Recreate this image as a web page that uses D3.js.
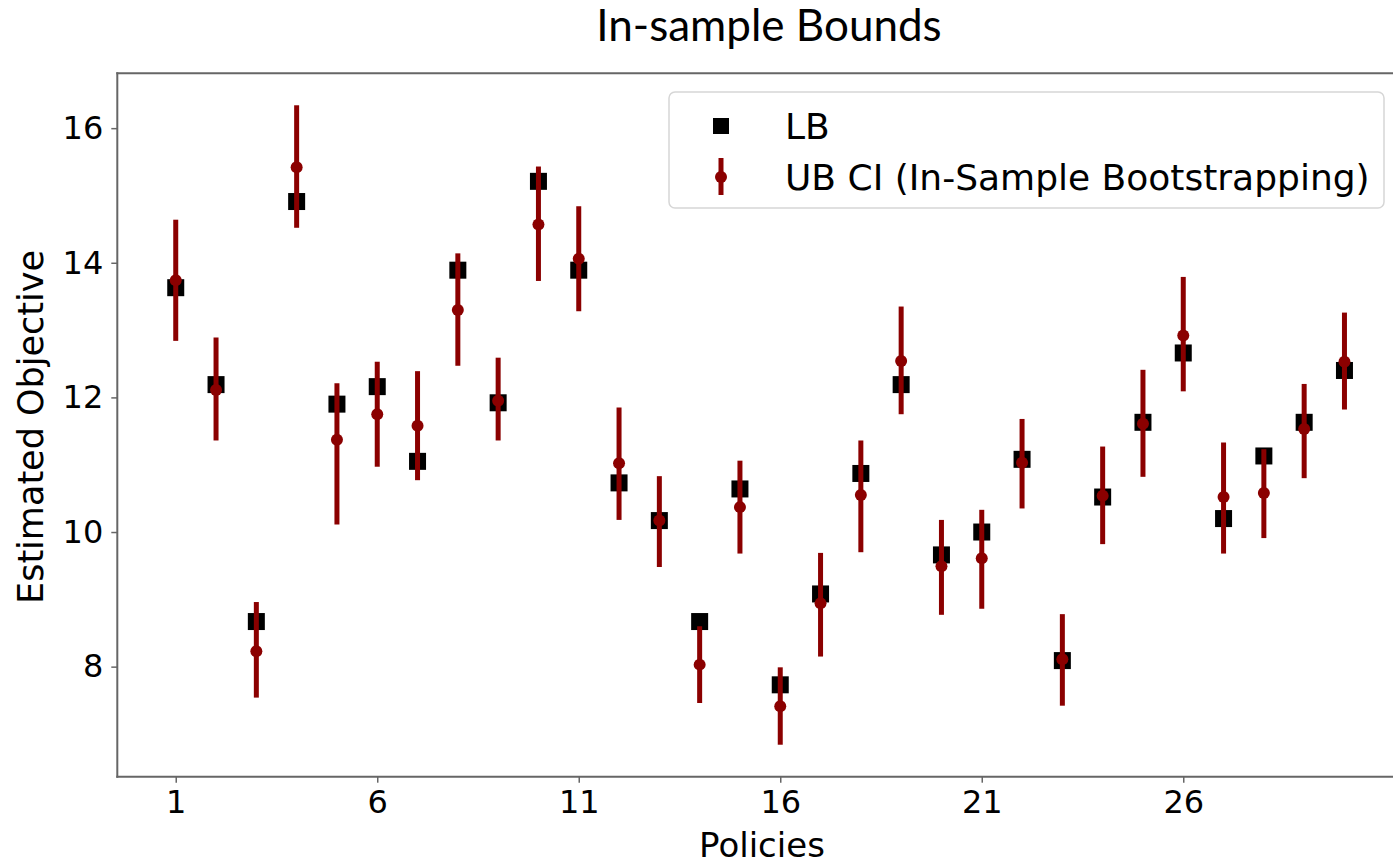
<!DOCTYPE html>
<html>
<head>
<meta charset="utf-8">
<script src="https://cdn.jsdelivr.net/npm/d3@7"></script>
<style>
  html, body { margin: 0; padding: 0; background: #fff; }
  svg { display: block; }
  .tick text { font-family: "DejaVu Sans", sans-serif; fill: #000; }
</style>
</head>
<body>
<svg id="chart" width="1393" height="864"></svg>
<script>
// policy ids on the x axis
var policies = d3.range(1, 31);
var xTicks = [1, 6, 11, 16, 21, 26];
var yTicks = [8, 10, 12, 14, 16];

// lower bound (black squares)
var lb = [13.63, 12.19, 8.67, 14.91, 11.90, 12.16, 11.05, 13.89, 11.92, 15.21,
          13.89, 10.73, 10.17, 8.67, 10.64, 7.73, 9.08, 10.87, 12.19, 9.66,
          10.00, 11.08, 8.09, 10.52, 11.63, 12.66, 10.20, 11.13, 11.63, 12.40];
// upper bound point estimate (dark red dots)
var ub = [13.74, 12.11, 8.23, 15.42, 11.37, 11.75, 11.58, 13.30, 11.95, 14.57,
          14.06, 11.02, 10.17, 8.03, 10.37, 7.41, 8.94, 10.55, 12.54, 9.49,
          9.61, 11.03, 8.11, 10.54, 11.61, 12.92, 10.52, 10.58, 11.53, 12.53];
// bootstrap CI ends
var ubLow = [12.84, 11.36, 7.54, 14.52, 10.11, 10.97, 10.77, 12.47, 11.36, 13.73,
             13.28, 10.18, 9.48, 7.46, 9.68, 6.84, 8.15, 9.70, 11.75, 8.77,
             8.86, 10.35, 7.42, 9.82, 10.82, 12.09, 9.68, 9.91, 10.80, 11.82];
var ubHigh = [14.64, 12.89, 8.96, 16.34, 12.21, 12.53, 12.39, 14.14, 12.59, 15.43,
              14.84, 11.85, 10.83, 8.60, 11.06, 7.99, 9.69, 11.36, 13.35, 10.18,
              10.33, 11.68, 8.78, 11.27, 12.41, 13.79, 11.33, 11.23, 12.20, 13.26];

var svg = d3.select("#chart");
var red = "#8b0000";

var pLeft = 117.3, pTop = 73.3, pBottom = 776.7, pRight = 1402.9;

// matplotlib-like 5% margins
var yMin = d3.min(ubLow), yMax = d3.max(ubHigh);
var yPad = (yMax - yMin) * 0.05;
var y = d3.scaleLinear().domain([yMin - yPad, yMax + yPad]).range([pBottom, pTop]);
var x = d3.scaleLinear().domain([1 - 29 * 0.05, 30 + 29 * 0.05]).range([pLeft, pRight]);

// spines (right one falls outside the picture)
[[pLeft, pTop, pLeft, pBottom], [pLeft, pTop, pRight, pTop], [pLeft, pBottom, pRight, pBottom]]
    .forEach(function (s) {
        svg.append("line")
            .attr("x1", s[0]).attr("y1", s[1]).attr("x2", s[2]).attr("y2", s[3])
            .attr("stroke", "#666").attr("stroke-width", 2)
            .attr("stroke-linecap", "square");
    });

var xAxis = svg.append("g")
    .attr("transform", "translate(0," + pBottom + ")")
    .call(d3.axisBottom(x).tickValues(xTicks).tickSize(6).tickPadding(8));
xAxis.select(".domain").remove();
xAxis.selectAll(".tick line").attr("stroke", "#666").attr("stroke-width", 1.5);
xAxis.selectAll(".tick text").attr("font-size", 32);

var yAxis = svg.append("g")
    .attr("transform", "translate(" + pLeft + ",0)")
    .call(d3.axisLeft(y).tickValues(yTicks).tickSize(6).tickPadding(8));
yAxis.select(".domain").remove();
yAxis.selectAll(".tick line").attr("stroke", "#666").attr("stroke-width", 1.5);
yAxis.selectAll(".tick text").attr("font-size", 32);

var rows = policies.map(function (p, i) {
    return { p: p, lb: lb[i], ub: ub[i], lo: ubLow[i], hi: ubHigh[i] };
});

// LB squares under the error bars
svg.selectAll(".lb")
    .data(rows)
    .enter().append("rect")
    .attr("class", "lb")
    .attr("x", d => x(d.p) - 8.5)
    .attr("y", d => y(d.lb) - 8.5)
    .attr("width", 17).attr("height", 17)
    .attr("fill", "#000");

svg.selectAll(".ci")
    .data(rows)
    .enter().append("line")
    .attr("class", "ci")
    .attr("x1", d => x(d.p)).attr("x2", d => x(d.p))
    .attr("y1", d => y(d.lo)).attr("y2", d => y(d.hi))
    .attr("stroke", red).attr("stroke-width", 5);

svg.selectAll(".ub")
    .data(rows)
    .enter().append("circle")
    .attr("class", "ub")
    .attr("cx", d => x(d.p)).attr("cy", d => y(d.ub))
    .attr("r", 6)
    .attr("fill", red);

// legend
var lg = svg.append("g");
lg.append("rect")
    .attr("x", 669).attr("y", 92).attr("width", 715).attr("height", 116)
    .attr("rx", 6)
    .attr("fill", "#fff").attr("fill-opacity", 0.8)
    .attr("stroke", "#d6d6d6").attr("stroke-width", 1.5);
lg.append("rect")
    .attr("x", 713).attr("y", 118).attr("width", 16).attr("height", 16)
    .attr("fill", "#000");
lg.append("line")
    .attr("x1", 721).attr("x2", 721).attr("y1", 158).attr("y2", 195)
    .attr("stroke", red).attr("stroke-width", 5);
lg.append("circle")
    .attr("cx", 721).attr("cy", 177).attr("r", 6).attr("fill", red);
lg.selectAll("text")
    .data(["LB", "UB CI (In-Sample Bootstrapping)"])
    .enter().append("text")
    .attr("x", 785)
    .attr("y", (d, i) => 126 + i * 51)
    .attr("dy", "0.36em")
    .attr("font-family", "DejaVu Sans, sans-serif")
    .attr("font-size", 36)
    .text(d => d);

// titles
svg.append("text")
    .attr("x", 769).attr("y", 41)
    .attr("text-anchor", "middle")
    .attr("font-family", "Lato, sans-serif")
    .attr("font-size", 44)
    .text("In-sample Bounds");

svg.append("text")
    .attr("x", 762).attr("y", 857)
    .attr("text-anchor", "middle")
    .attr("font-family", "DejaVu Sans, sans-serif")
    .attr("font-size", 34)
    .text("Policies");

svg.append("text")
    .attr("transform", "translate(43,427) rotate(-90)")
    .attr("text-anchor", "middle")
    .attr("font-family", "DejaVu Sans, sans-serif")
    .attr("font-size", 35)
    .text("Estimated Objective");
</script>
</body>
</html>
